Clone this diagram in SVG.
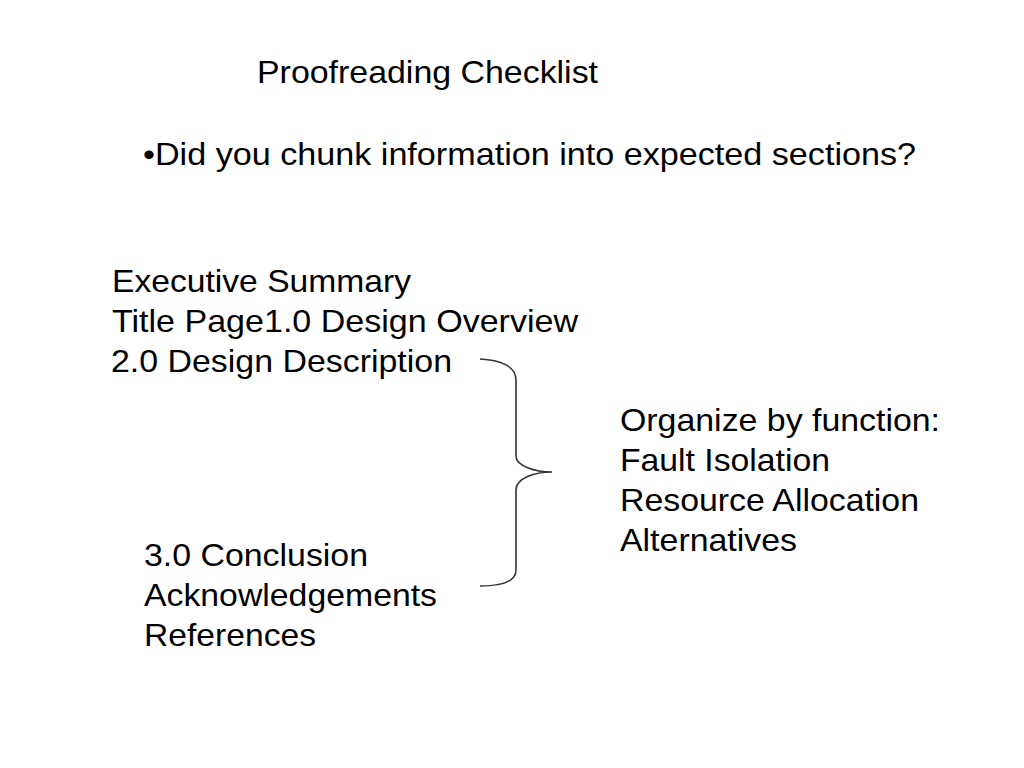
<svg xmlns="http://www.w3.org/2000/svg" width="1024" height="768" viewBox="0 0 1024 768">
<style>
text{font-family:"Liberation Sans",Arial,Helvetica,sans-serif;font-size:32px;fill:#000}
.brace{fill:none;stroke:#333;stroke-width:1.6}
</style>
<rect width="1024" height="768" fill="#fff"/>
<g id="title"><text x="257" y="83" textLength="341" lengthAdjust="spacingAndGlyphs">Proofreading Checklist</text></g>
<g id="question"><text x="143" y="165" textLength="773" lengthAdjust="spacingAndGlyphs">•Did you chunk information into expected sections?</text></g>
<g id="sections-top">
<text x="112" y="292" textLength="299" lengthAdjust="spacingAndGlyphs">Executive Summary</text>
<text x="112" y="332" textLength="466" lengthAdjust="spacingAndGlyphs">Title Page1.0 Design Overview</text>
<text x="111" y="372" textLength="341" lengthAdjust="spacingAndGlyphs">2.0 Design Description</text>
</g>
<g id="organize">
<text x="620" y="431" textLength="320" lengthAdjust="spacingAndGlyphs">Organize by function:</text>
<text x="620" y="471" textLength="210" lengthAdjust="spacingAndGlyphs">Fault Isolation</text>
<text x="620" y="511" textLength="299" lengthAdjust="spacingAndGlyphs">Resource Allocation</text>
<text x="620" y="551" textLength="177" lengthAdjust="spacingAndGlyphs">Alternatives</text>
</g>
<g id="sections-bottom">
<text x="144" y="566" textLength="224" lengthAdjust="spacingAndGlyphs">3.0 Conclusion</text>
<text x="144" y="606" textLength="293" lengthAdjust="spacingAndGlyphs">Acknowledgements</text>
<text x="144" y="646" textLength="172" lengthAdjust="spacingAndGlyphs">References</text>
</g>
<g id="connectors">
<path class="brace" d="M480,359 C500,360 516,366 516,380 L516,456 C516,466 535,472 552,472 C535,472 516,478 516,490 L516,570 C516,582 500,586 480,586"/>
</g>
</svg>
